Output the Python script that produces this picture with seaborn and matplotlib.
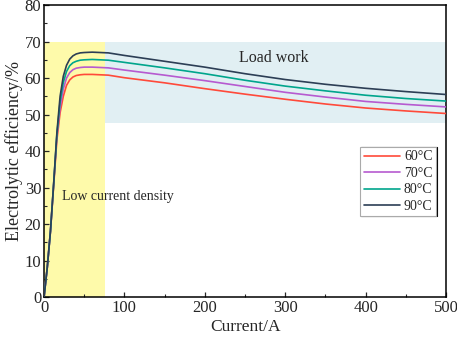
import pandas as pd
import seaborn as sns
import matplotlib
matplotlib.use("Agg")
import matplotlib.pyplot as plt
from matplotlib.ticker import MultipleLocator

sns.set_theme(style="ticks")
plt.rcParams['font.family'] = ['Liberation Serif', 'DejaVu Serif']

# datos
current = [0, 4, 8, 12, 16, 20, 24, 28, 32, 36, 40, 45, 50, 60, 70, 80,
           100, 150, 200, 250, 300, 350, 400, 450, 500]
eff_60 = [0, 8, 18, 30.5, 43, 50.5, 55, 58, 59.5, 60.3, 60.7, 60.9, 61.0, 61.0, 60.9, 60.8,
          60.1, 58.7, 57.1, 55.6, 54.2, 52.9, 51.8, 51.0, 50.3]
eff_70 = [0, 8, 18, 31, 44, 52, 57, 60, 61.5, 62.3, 62.7, 62.9, 63.0, 63.0, 62.9, 62.8,
          62.2, 60.8, 59.3, 57.7, 56.1, 54.8, 53.6, 52.8, 52.1]
eff_80 = [0, 8, 18, 31, 44.5, 53.5, 58.8, 61.8, 63.4, 64.2, 64.6, 64.9, 65.0, 65.1, 65.0, 64.9,
          64.3, 62.8, 61.2, 59.4, 57.8, 56.5, 55.3, 54.4, 53.7]
eff_90 = [0, 8, 18, 31, 45, 55, 60.5, 63.5, 65.2, 66.1, 66.6, 66.9, 67.0, 67.1, 67.0, 66.9,
          66.2, 64.6, 63.0, 61.2, 59.6, 58.3, 57.2, 56.3, 55.5]
temps = ['60°C', '70°C', '80°C', '90°C']
colores = ['#ff4a3a', '#b65ad0', '#00a58c', '#2c3e55']

# regiones sombreadas
low_region = (0, 76, 0, 70)
load_region = (76, 500, 47.8, 70)

frames = []
for t, vals in zip(temps, [eff_60, eff_70, eff_80, eff_90]):
    frames.append(pd.DataFrame({'Current': current, 'Eff': vals, 'Temp': t}))
df = pd.concat(frames, ignore_index=True)

fig = plt.figure(figsize=(4.57, 3.38), dpi=100)
ax = fig.add_axes([0.0963, 0.121, 0.8797, 0.864])

ax.fill_between([low_region[0], low_region[1]], low_region[2], low_region[3],
                color='#fefaaa', lw=0, zorder=0)
ax.fill_between([load_region[0], load_region[1]], load_region[2], load_region[3],
                color='#e1eff3', lw=0, zorder=0)

sns.lineplot(data=df, x='Current', y='Eff', hue='Temp', palette=colores,
             linewidth=1.2, ax=ax, zorder=3)

ax.set_xlim(0, 500)
ax.set_ylim(0, 80)
ax.xaxis.set_major_locator(MultipleLocator(100))
ax.xaxis.set_minor_locator(MultipleLocator(50))
ax.yaxis.set_major_locator(MultipleLocator(10))
ax.yaxis.set_minor_locator(MultipleLocator(5))
ax.tick_params(which='both', direction='in', top=False, right=False, labelsize=12, pad=2)
ax.tick_params(which='major', length=3.5, width=0.9)
ax.tick_params(which='minor', length=2, width=0.8)
for s in ax.spines.values():
    s.set_linewidth(1.1)
    s.set_color('black')

ax.set_xlabel('Current/A', fontsize=12.5, labelpad=2)
ax.set_ylabel('Electrolytic efficiency/%', fontsize=13, labelpad=1)

ax.text(242, 64.3, 'Load work', fontsize=11.5)
ax.text(22, 26.5, 'Low current density', fontsize=10)

leg = ax.legend(loc='upper right', bbox_to_anchor=(0.975, 0.514), fontsize=10,
                frameon=True, fancybox=False, edgecolor='#aaaaaa', handlelength=2.6,
                borderpad=0.25, labelspacing=0.25, handletextpad=0.3, borderaxespad=0,
                shadow={'ox': 0.7, 'oy': 0, 'color': 'black', 'alpha': 1})
leg.get_frame().set_linewidth(0.8)
leg.get_frame().set_facecolor('white')
leg.get_frame().set_alpha(1)

plt.savefig("out.png", dpi=100)
